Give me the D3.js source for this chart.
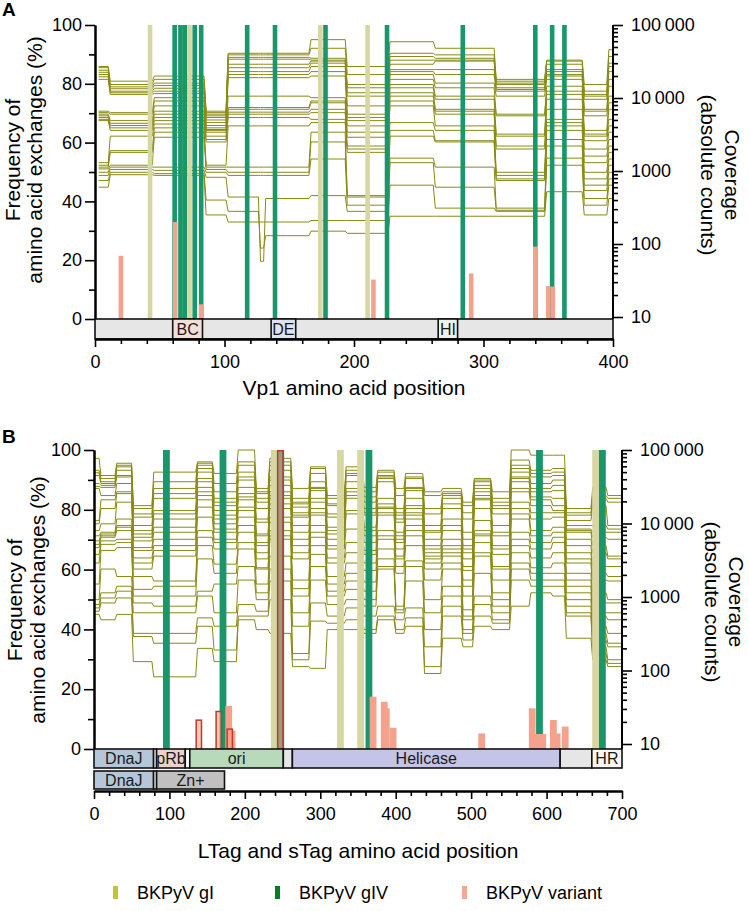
<!DOCTYPE html>
<html>
<head>
<meta charset="utf-8">
<script src="https://cdn.jsdelivr.net/npm/d3@7"></script>
<style>
  body { margin: 0; background: #fff; }
  text { font-family: "Liberation Sans", Arial, Helvetica, sans-serif; }
</style>
</head>
<body>
<svg id="chart" width="749" height="911"></svg>
<script>
// ---- Panel A: Vp1 ----
// amplicon segment borders (aa) and coverage per segment, one value per sample
const vp1Breaks = [2, 11, 45, 85, 102, 127, 131, 166, 194, 227, 262, 309, 348, 377, 396, 400];
const vp1Coverage = [
  [27000,26000,24000,22500,21000,19500,18000,6600,6300,6000,5700,5400,5100,4900,1300,1200,1130,1070,960,870,740,600],
  [17000,15300,14200,13400,12400,11800,11200,6300,6000,4900,4500,4200,3900,3600,3000,1900,1800,1200,1130,1050,960,890],
  [20000,18000,16000,14800,13600,12400,11500,10100,9100,7800,6600,6000,5400,4900,4400,3900,3400,2900,1130,1020,920,870],
  [6600,6300,6000,5700,5400,5000,4600,4200,3900,3700,3600,3400,3000,2700,2500,1200,1130,1050,960,820,400,250],
  [41000,39000,36000,34000,29000,26000,23000,21000,19000,10600,7400,7000,6400,6000,5400,4150,1130,960,870,440,280,200],
  [41000,39000,36000,34000,29000,26000,23000,21000,19000,10600,7400,7000,6400,6000,5400,4150,1130,960,870,58,88,200],
  [41000,39000,36000,34000,29000,26000,23000,21000,19000,10600,7400,7000,6400,6000,5400,4150,1130,960,870,420,130,200],
  [63000,48000,35000,33000,32000,30000,27000,23000,20000,10100,9100,8600,7000,6300,5100,4600,3400,2500,1460,460,150,210],
  [27000,21000,15300,13800,11800,10600,7800,6000,5400,4900,4150,3400,2900,2200,2000,1800,460,440,340,280,140,210],
  [59000,41000,37000,33000,29000,24500,23000,21000,18000,15300,13800,11800,10600,9100,7800,4600,3600,3000,1500,1300,240,640],
  [48000,39000,35000,33000,32000,24500,21000,16000,13800,10600,9600,7000,6600,6000,4150,3600,2600,2500,1130,600,240,310],
  [18000,17000,16000,15300,13800,13100,12400,10600,6000,5700,3200,3000,2200,2000,960,870,780,740,310,290,240,280],
  [33000,32000,29000,24500,23000,21000,20000,18000,14500,12400,11200,9600,7000,5100,4600,4150,3600,2700,2200,1500,520,1200],
  [15300,12400,11200,10600,9600,7000,6600,5700,3600,3200,3000,2600,2000,1600,1300,960,780,640,540,420,250,340],
  [46000,37000,30000,27000,23000,18000,14500,10600,8600,7000,5100,4150,3400,2700,2200,1800,1460,1200,960,780,420,640]
];
const vp1GI = [42.5, 73, 174, 210.5];
const vp1GIV = [61.5, 66, 69.3, 77, 82, 117.5, 139, 178, 225.5, 284, 340, 353, 362.5];
const vp1Variants = [[20, 21.5], [62, 33], [82, 5], [215, 13.4], [290.5, 15.5], [340, 24.6], [350, 11.2], [353.5, 11]];
const vp1Domains = [['linker', 0, 400], ['BC', 60, 83], ['DE', 136, 155], ['HI', 265, 280]];

// ---- Panel B: LTag / sTag ----
const ltagBreaks = [0, 8, 29, 51, 78, 136, 158, 190, 214, 232, 262, 286, 308, 333, 357, 375, 399, 412, 437, 461, 488, 503, 527, 552, 578, 607, 625, 660, 680, 700];
const ltagCoverage = [
  [77000,53000,49000,45000,35000,32000,30000,11000,9900,8000,6800,5800,5200,4700,3800,2900,1500,920,790,710,640,580],
  [45000,41000,37000,35000,33000,31000,24000,21000,16000,9900,7600,7200,6800,6500,5800,5200,4300,2400,1140,970,830,490],
  [66000,62000,59000,53000,45000,43000,35000,27000,25500,19500,11500,9400,8900,8000,6100,5500,4700,1900,1400,1200,970,580],
  [17500,16000,13500,12200,9400,8000,7200,6500,5800,4700,4300,3400,2900,2400,1900,1270,1030,830,610,320,290,132],
  [50000,37000,30000,25500,22000,15000,13500,11500,8900,7600,6100,5000,4300,3600,1650,1400,1030,750,610,320,235,82],
  [69000,66000,62000,56000,50000,41000,37000,31000,27000,24000,21000,16700,12200,8000,6500,5000,3300,1200,1030,520,400,200],
  [48000,35000,27000,22000,19500,17500,15000,13000,11500,9900,8400,7600,6100,5500,4500,2800,2100,1500,610,400,190,132],
  [100000,69000,62000,50000,43000,39000,31000,25500,23000,21000,16700,15000,12200,9400,7600,5500,4500,2600,1700,790,550,490],
  [30000,27000,25500,22000,19500,16000,11500,10400,7200,6800,5500,5000,4000,3300,2500,2400,1500,1140,920,640,550,360],
  [77000,69000,62000,53000,43000,39000,33000,27000,24000,22000,18500,16000,12200,10400,8000,6800,6100,3600,2400,1650,920,320],
  [30000,22000,19500,18500,16700,14000,13000,12200,9400,7600,6100,5000,4000,3300,1700,1300,1030,610,400,170,140,113],
  [59000,56000,48000,37000,31000,30000,28000,22000,19500,16000,14000,13000,9400,7600,6500,5000,3800,2600,1700,830,470,107],
  [24000,22000,18500,17500,13500,12200,8900,8000,7200,6100,5000,4500,3400,2900,1900,1500,1200,1030,790,550,440,360],
  [59000,53000,48000,45000,37000,30000,27000,24000,22000,15000,13500,8400,5500,4000,2900,2100,1650,1270,920,710,490,360],
  [31000,27000,23000,19500,16000,14000,13000,8900,8000,6800,5500,4300,3800,2900,2300,1600,1200,920,750,550,360,320],
  [53000,50000,45000,43000,41000,37000,22000,18500,16700,16000,14000,13000,8000,6800,6100,4500,3300,2600,2400,750,550,490],
  [30000,24000,16000,14000,13000,11500,10400,7600,6800,6100,5500,4500,3600,3300,2600,2100,750,670,610,490,360,320],
  [48000,43000,41000,31000,30000,28000,22000,17500,16000,14000,13000,11500,9400,8000,6800,5000,3100,2600,1650,710,520,400],
  [27000,24000,16000,13500,9400,8000,7600,6100,5000,4500,4000,3600,3300,2900,2400,1700,920,610,360,210,113,91],
  [30000,27000,25500,24000,22000,18500,16000,11500,9400,8000,6100,5000,4500,4000,3600,2900,2400,1400,1030,750,550,275],
  [19500,17500,14000,11500,7600,6100,5000,4500,4000,3300,2600,2300,1700,1400,1030,670,550,490,360,320,260,210],
  [41000,39000,37000,33000,30000,27000,24000,22000,21000,16000,11000,8000,7200,6800,5500,4000,3600,2100,1030,790,550,400],
  [27000,22000,19500,17500,16000,13500,9400,7600,6800,5000,4500,3800,2600,2400,1700,1140,920,750,610,490,440,360],
  [100000,73000,62000,56000,50000,43000,41000,37000,30000,27000,19500,16000,13500,11500,7600,6100,5000,4000,2900,2400,1700,750],
  [85000,53000,48000,43000,35000,30000,27000,23000,21000,17500,14000,11500,8000,6800,5500,4500,3400,2500,2100,1700,1400,1140],
  [85000,56000,50000,45000,39000,33000,28000,22000,17500,15000,14000,12200,8900,7600,6500,5500,4000,2900,2100,1700,1400,1030],
  [16000,14000,13000,11000,9400,8400,8000,7600,6100,5000,4000,3300,2900,2100,1700,1400,1140,920,750,610,550,275],
  [31000,24000,22000,17500,9400,7600,6500,5000,4000,2600,2100,1700,1140,830,610,550,400,320,260,210,170,140],
  [24000,22000,19500,9400,8400,7600,6100,3600,3300,2600,1900,1650,920,830,610,490,320,235,210,140,125,113]
];
const ltagGI = [239, 326.7, 353.5, 665];
const ltagGIV = [96, 171, 247.6, 364.5, 590.6, 674];
const ltagVariants = [[178.6, 14.4], [183, 6.1], [370, 17.5], [384.8, 15.8], [387.5, 13.6], [396.5, 7.1], [514, 5.2],
  [581, 13.6], [589, 5], [595, 5], [609, 9.7], [614, 5.2], [624.7, 7.5]];
const ltagVariantsOutlined = [[139, 9.9], [165.4, 12.8], [180, 6.9], [247, 100]];
const ltagDomains = [['DnaJ', 0, 79], ['gap', 79, 83], ['pRb', 83, 121], ['gap', 121, 127], ['ori', 127, 251],
  ['linker', 251, 263], ['Helicase', 263, 618], ['linker', 618, 660], ['HR', 660, 700]];
const stagDomains = [['DnaJ', 0, 79], ['gap', 79, 83], ['Zn+', 83, 173]];

const legendLabels = ['BKPyV gI', 'BKPyV gIV', 'BKPyV variant'];

// ---- styles ----
const C = {
  line: '#8a8a14', gI: '#d7d7a3', gIV: '#18976b', variant: '#f4a28c', outline: '#c0392b'
};
const domainFill = {
  linker: '#e6e6e6', gap: '#ffffff', BC: '#f2dfd8', DE: '#dde4f0', HI: '#eef1eb',
  DnaJ: '#b4c7d9', pRb: '#edd2ca', ori: '#b8dabb', Helicase: '#c4c4e8', HR: '#fdf6f4', 'Zn+': '#c0c0c0'
};
const legendColors = ['#c0c535', '#0b7d1f', '#f2a993'];

const svg = d3.select('#chart');

function styleAxis(sel) {
  sel.select('.domain').attr('stroke', '#000').attr('stroke-width', 2);
  sel.selectAll('.tick line').attr('stroke', '#000').attr('stroke-width', 1.6);
  sel.selectAll('.tick text').attr('font-size', 18).attr('fill', '#000')
    .attr('font-family', '"Liberation Sans", Arial, sans-serif');
}

function drawPanel(p) {
  const x = d3.scaleLinear().domain([0, p.xMax]).range([p.left, p.right]);
  const yPct = d3.scaleLinear().domain([0, 100]).range([p.bottom, p.top]);
  const yCov = d3.scaleLog().domain([10, 100000]).range([p.covBottom, p.top]);
  const g = svg.append('g');

  g.append('clipPath').attr('id', 'clip-' + p.id).append('rect')
    .attr('x', p.left).attr('y', p.top - 3)
    .attr('width', p.right - p.left).attr('height', p.bottom - p.top + 3);

  // coverage step lines, one per sample
  const nSamples = p.coverage[0].length;
  const samples = d3.range(nSamples).map(i => p.coverage.flatMap((row, j) => [
    [p.breaks[j] + p.pad, row[i]], [p.breaks[j + 1] - p.pad, row[i]]
  ]));
  const line = d3.line().x(d => x(d[0])).y(d => yCov(d[1]));
  g.append('g').attr('clip-path', `url(#clip-${p.id})`)
    .selectAll('path').data(samples).join('path')
    .attr('d', line).attr('fill', 'none')
    .attr('stroke', C.line).attr('stroke-width', 1).attr('stroke-linejoin', 'round');

  // genotype bars (full height)
  const bw = p.barWidth;
  g.append('g').selectAll('rect').data(p.gI).join('rect')
    .attr('x', d => x(d) - bw / 2).attr('width', bw)
    .attr('y', yPct(100)).attr('height', yPct(0) - yPct(100))
    .attr('fill', C.gI);
  g.append('g').selectAll('rect').data(p.gIV).join('rect')
    .attr('x', d => x(d) - bw / 2).attr('width', bw)
    .attr('y', yPct(100)).attr('height', yPct(0) - yPct(100))
    .attr('fill', C.gIV);

  // variant frequencies
  g.append('g').selectAll('rect').data(p.variants).join('rect')
    .attr('x', d => x(d[0]) - bw / 2).attr('width', bw)
    .attr('y', d => yPct(d[1])).attr('height', d => yPct(0) - yPct(d[1]))
    .attr('fill', C.variant);
  if (p.outlined) {
    g.append('g').selectAll('rect').data(p.outlined).join('rect')
      .attr('x', d => x(d[0]) - bw / 2 + 0.75).attr('width', bw - 1.5)
      .attr('y', d => yPct(d[1]) + 0.75).attr('height', d => yPct(0) - yPct(d[1]) - 0.75)
      .attr('fill', C.variant).attr('fill-opacity', 0.6)
      .attr('stroke', C.outline).attr('stroke-width', 1.5);
  }

  // left axis (%)
  g.append('g').attr('transform', `translate(${p.left},0)`)
    .call(d3.axisLeft(yPct).tickValues([0, 20, 40, 60, 80, 100]).tickSize(10).tickPadding(3).tickSizeOuter(0))
    .call(styleAxis);
  g.append('g').attr('transform', `translate(${p.left},0)`)
    .call(d3.axisLeft(yPct).tickValues([10, 30, 50, 70, 90]).tickSize(6).tickFormat('').tickSizeOuter(0))
    .call(styleAxis);

  // right axis (log coverage)
  const fmt = d => d >= 10000 ? d3.format(',')(d).replace(',', '\u2009') : String(d);
  const minor = [];
  [10, 100, 1000, 10000].forEach(dec => d3.range(2, 10).forEach(k => minor.push(dec * k)));
  g.append('g').attr('transform', `translate(${p.right},0)`)
    .call(d3.axisRight(yCov).tickValues([10, 100, 1000, 10000, 100000]).tickFormat(fmt)
      .tickSize(10).tickPadding(8).tickSizeOuter(0))
    .call(styleAxis).call(s => s.select('.domain').remove());
  g.append('g').attr('transform', `translate(${p.right},0)`)
    .call(d3.axisRight(yCov).tickValues(minor).tickSize(5).tickFormat('').tickSizeOuter(0))
    .call(styleAxis).call(s => s.select('.domain').remove());
  g.append('line').attr('x1', p.right).attr('x2', p.right).attr('y1', p.top).attr('y2', p.bottom)
    .attr('stroke', '#000').attr('stroke-width', 2);

  // domain rows
  p.domainRows.forEach(row => {
    const rg = g.append('g');
    rg.selectAll('rect').data(row.items).join('rect')
      .attr('x', d => x(d[1])).attr('width', d => x(d[2]) - x(d[1]))
      .attr('y', row.y0).attr('height', row.y1 - row.y0)
      .attr('fill', d => domainFill[d[0]]).attr('stroke', '#111').attr('stroke-width', 1.6);
    rg.selectAll('text').data(row.items.filter(d => d[0] !== 'gap' && d[0] !== 'linker')).join('text')
      .attr('x', d => (x(d[1]) + x(d[2])) / 2).attr('y', (row.y0 + row.y1) / 2)
      .attr('dy', '0.36em').attr('text-anchor', 'middle')
      .attr('font-size', 16).attr('fill', '#1a1a1a').text(d => d[0]);
  });

  // bottom axis
  g.append('g').attr('transform', `translate(0,${p.axisY})`)
    .call(d3.axisBottom(x).tickValues(d3.range(0, p.xMax + 1, 100)).tickSize(8).tickPadding(8).tickSizeOuter(0))
    .call(styleAxis);
  g.append('g').attr('transform', `translate(0,${p.axisY})`)
    .call(d3.axisBottom(x).tickValues(d3.range(0, p.xMax + 1, 20).filter(v => v % 100)).tickSize(5).tickFormat('').tickSizeOuter(0))
    .call(styleAxis);

  // titles
  g.append('text').attr('x', (p.left + p.right) / 2).attr('y', p.titleY)
    .attr('text-anchor', 'middle').attr('font-size', 21).text(p.xTitle);
  [['Frequency of', p.lt1], ['amino acid exchanges (%)', p.lt2]].forEach(([t, bx]) => {
    g.append('text').attr('transform', `translate(${bx},${p.ltY}) rotate(-90)`)
      .attr('text-anchor', 'middle').attr('font-size', 21).text(t);
  });
  [['Coverage', p.rt1], ['(absolute counts)', p.rt2]].forEach(([t, bx]) => {
    g.append('text').attr('transform', `translate(${bx},${p.rtY}) rotate(90)`)
      .attr('text-anchor', 'middle').attr('font-size', 21).text(t);
  });
  g.append('text').attr('x', 2).attr('y', p.labelY).attr('font-size', 19)
    .attr('font-weight', 'bold').text(p.id);
}

drawPanel({
  id: 'A', xMax: 400, left: 95, right: 613, top: 25, bottom: 319, covBottom: 317,
  breaks: vp1Breaks, coverage: vp1Coverage, pad: 0.8, barWidth: 4.6,
  gI: vp1GI, gIV: vp1GIV, variants: vp1Variants,
  domainRows: [{ y0: 319, y1: 339, items: vp1Domains }],
  axisY: 339, titleY: 395, xTitle: 'Vp1 amino acid position',
  lt1: 20, lt2: 42, ltY: 160, rt1: 725, rt2: 701, rtY: 175, labelY: 16
});

drawPanel({
  id: 'B', xMax: 700, left: 94, right: 622, top: 450, bottom: 749, covBottom: 744,
  breaks: ltagBreaks, coverage: ltagCoverage, pad: 1.2, barWidth: 6.8,
  gI: ltagGI, gIV: ltagGIV, variants: ltagVariants, outlined: ltagVariantsOutlined,
  domainRows: [{ y0: 749, y1: 768, items: ltagDomains }, { y0: 771, y1: 789, items: stagDomains }],
  axisY: 791, titleY: 858, xTitle: 'LTag and sTag amino acid position',
  lt1: 22, lt2: 45, ltY: 600, rt1: 729, rt2: 705, rtY: 602, labelY: 443
});

// legend
const legendX = [113, 275, 462];
const lg = svg.append('g');
legendLabels.forEach((label, i) => {
  lg.append('rect').attr('x', legendX[i]).attr('y', 886).attr('width', 5).attr('height', 13)
    .attr('fill', legendColors[i]);
  lg.append('text').attr('x', legendX[i] + 24).attr('y', 899).attr('font-size', 18).text(label);
});
</script>
</body>
</html>
